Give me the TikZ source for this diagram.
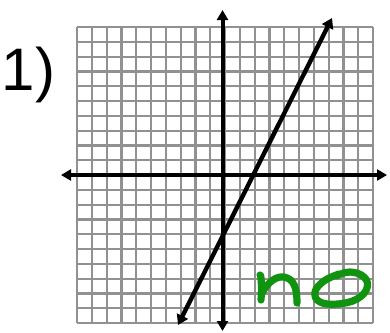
\documentclass[tikz,border=0pt]{standalone}
\usepackage{fontspec}
\setmainfont{Liberation Sans}
\usetikzlibrary{arrows.meta}
\definecolor{inkgreen}{RGB}{16,148,16}
\definecolor{gridgray}{RGB}{145,145,145}
\tikzset{
  gridline/.style={draw=gridgray, line width=2.2pt},
  axisline/.style={draw=black, line width=4pt, {Triangle[length=10pt,width=11pt]}-{Triangle[length=10pt,width=11pt]}},
  graphline/.style={draw=black, line width=4.4pt, {Triangle[length=10pt,width=12pt]}-{Triangle[length=10pt,width=12pt]}},
  handink/.style={draw=inkgreen, line width=7.2pt, line cap=round, line join=round},
  numlabel/.style={inner sep=0pt, anchor=base west, font=\fontsize{60}{60}\selectfont}
}
\begin{document}
\begin{tikzpicture}[x=1pt,y=-1pt]
\useasboundingbox (0,0) rectangle (390,332);
% grid
\foreach \i in {0,...,20}{
  \draw[gridline] ({77+14.8*\i},27) -- ({77+14.8*\i},323);
  \draw[gridline] (77,{27+14.8*\i}) -- (373,{27+14.8*\i});
}
% label
\node[numlabel] (num) at (1.5,90) {1)};
% axes
\coordinate (xl) at (61,175);
\coordinate (xr) at (387,175);
\coordinate (yt) at (222.5,10);
\coordinate (yb) at (222.5,331);
\draw[axisline] (xl) -- (xr);
\draw[axisline] (yb) -- (yt);
% graph line
\coordinate (lb) at (178,325);
\coordinate (lt) at (332,18);
\draw[graphline] (lb) -- (lt);
% handwritten "no"
\draw[handink] (260,275) .. controls (261,273) and (262,285) .. (261,300);
\draw[handink] (262,293) .. controls (268,282) and (276,276) .. (284,277)
  .. controls (294,279) and (297,288) .. (297,303);
\draw[handink] plot[smooth, tension=0.7] coordinates {(339,274) (324,281) (315,292) (320,302) (338,304) (357,299) (367,288) (364,277) (350,272) (336,276)};
\end{tikzpicture}
\end{document}
